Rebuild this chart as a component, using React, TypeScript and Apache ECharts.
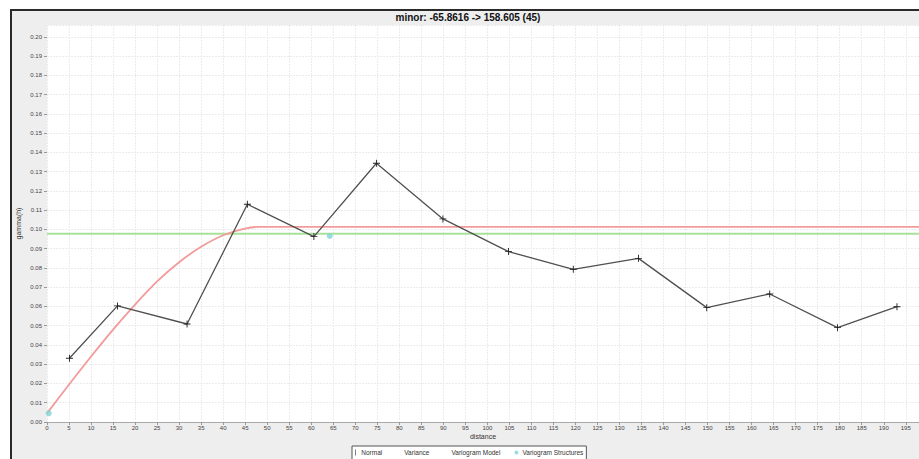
import React, { useEffect, useRef } from "react";
import * as echarts from "echarts";

const titleText = "minor: -65.8616 -> 158.605 (45)";
const xName = "distance";
const yName = "gamma(h)";
const seriesNames = ["Normal", "Variance", "Variogram Model", "Variogram Structures"];

// experimental semivariogram (distance, gamma)
const normalDist = [5.1, 16.0, 31.8, 45.5, 60.6, 74.8, 89.9, 104.8, 119.5, 134.3, 149.8, 164.1, 179.5, 193.0];
const normalGamma = [0.0331, 0.0603, 0.0509, 0.1131, 0.0963, 0.1344, 0.1055, 0.0885, 0.0793, 0.085, 0.0594, 0.0665, 0.049, 0.0599];

// sample variance line
const varianceDist = [0, 198];
const varianceGamma = [0.0978, 0.0978];

// fitted model curve
const modelDist = [0, 5, 10, 15, 20, 25, 30, 35, 40, 45, 48, 198];
const modelGamma = [0.0045, 0.0195, 0.034, 0.048, 0.061, 0.073, 0.083, 0.091, 0.097, 0.1005, 0.1013, 0.1013];

// structures
const structDist = [0.4, 64.2];
const structGamma = [0.0045, 0.0966];

const X_MAX = 198;
const Y_MAX = 0.2062;

const plusPath = "path://M4,0 h1.2 v4 h4 v1.2 h-4 v4 h-1.2 v-4 h-4 v-1.2 h4 z";

export default function App() {
  const ref = useRef<HTMLDivElement>(null);
  useEffect(() => {
    if (!ref.current) return;
    const chart = echarts.init(ref.current, undefined, { renderer: "svg" });
    const zip = (a: number[], b: number[]) => a.map((v, i) => [v, b[i]]);
    const font = "Liberation Sans, Arial, sans-serif";
    chart.setOption({
      animation: false,
      backgroundColor: "transparent",
      textStyle: { fontFamily: font },
      title: {
        text: titleText,
        left: 468,
        top: 12,
        textAlign: "center",
        padding: 0,
        textStyle: { fontSize: 10, fontWeight: "bold", color: "#111", fontFamily: font },
      },
      grid: {
        left: 47,
        right: 0,
        top: 25,
        bottom: 37,
        show: true,
        backgroundColor: "#ffffff",
        borderWidth: 0,
      },
      legend: {
        left: 352,
        top: 446,
        orient: "horizontal",
        padding: [3, 3, 6, 3],
        itemWidth: 4,
        itemHeight: 6,
        itemGap: 14,
        backgroundColor: "#ffffff",
        borderColor: "#555",
        borderWidth: 1,
        borderRadius: 0,
        textStyle: { fontSize: 6.5, color: "#333", fontFamily: font, padding: [0, 0, 0, -1] },
        data: [
          { name: seriesNames[0], icon: "path://M0,0 h1 v10 h-1 z", itemStyle: { color: "#222" } },
          { name: seriesNames[1], icon: "none" },
          { name: seriesNames[2], icon: "none" },
          { name: seriesNames[3], icon: "circle", itemStyle: { color: "#7fd4d4" } },
        ],
      },
      xAxis: {
        type: "value",
        min: 0,
        max: X_MAX,
        interval: 5,
        name: xName,
        nameLocation: "middle",
        nameGap: 11,
        nameMoveOverlap: false,
        nameTextStyle: { fontSize: 7, color: "#333", fontFamily: font },
        axisLine: { show: true, lineStyle: { color: "#aaa", width: 1 } },
        axisTick: { show: true, length: 3, lineStyle: { color: "#999" } },
        axisLabel: {
          fontSize: 6,
          color: "#444",
          margin: 3,
          showMaxLabel: false,
          formatter: (v: number) => (Math.abs(v / 5 - Math.round(v / 5)) < 1e-6 ? String(Math.round(v)) : ""),
        },
        splitLine: { show: true, lineStyle: { color: "#ececec", width: 1, type: [2, 1] } },
      },
      yAxis: {
        type: "value",
        min: 0,
        max: Y_MAX,
        interval: 0.01,
        name: yName,
        nameLocation: "middle",
        nameGap: 25,
        nameMoveOverlap: false,
        nameRotate: 90,
        nameTextStyle: { fontSize: 7, color: "#333", fontFamily: font },
        axisLine: { show: false },
        axisTick: { show: true, length: 3, lineStyle: { color: "#999" } },
        axisLabel: {
          fontSize: 6,
          color: "#444",
          margin: 5,
          showMaxLabel: false,
          formatter: (v: number) => (Math.abs(v * 100 - Math.round(v * 100)) < 1e-6 ? v.toFixed(2) : ""),
        },
        splitLine: { show: true, lineStyle: { color: "#ececec", width: 1, type: [2, 1] } },
      },
      series: [
        {
          name: seriesNames[1],
          type: "line",
          data: zip(varianceDist, varianceGamma),
          symbol: "none",
          lineStyle: { color: "#a8e29a", width: 2 },
          itemStyle: { color: "#a8e29a" },
          z: 2,
        },
        {
          name: seriesNames[2],
          type: "line",
          data: zip(modelDist, modelGamma),
          symbol: "none",
          smooth: 0.25,
          lineStyle: { color: "#f39a9a", width: 1.8 },
          itemStyle: { color: "#f39a9a" },
          z: 3,
        },
        {
          name: seriesNames[0],
          type: "line",
          data: zip(normalDist, normalGamma),
          symbol: plusPath,
          symbolSize: 7,
          showSymbol: true,
          lineStyle: { color: "#505050", width: 1.3 },
          itemStyle: { color: "#222" },
          z: 4,
        },
        {
          name: seriesNames[3],
          type: "scatter",
          data: zip(structDist, structGamma),
          symbol: "circle",
          symbolSize: 6,
          itemStyle: { color: "#7fd4d4" },
          z: 5,
        },
      ],
    });
    return () => chart.dispose();
  }, []);

  return (
    <div style={{ position: "fixed", left: 0, top: 0, width: 919, height: 459, background: "#fff", overflow: "hidden" }}>
      <div
        style={{
          position: "absolute",
          left: 10,
          top: 9,
          width: 909,
          height: 450,
          boxSizing: "border-box",
          borderLeft: "2px solid #2a2a2a",
          borderTop: "2px solid #2a2a2a",
          background: "#eeeeee",
        }}
      />
      <div ref={ref} style={{ position: "absolute", left: 0, top: 0, width: 919, height: 459 }} />
    </div>
  );
}
